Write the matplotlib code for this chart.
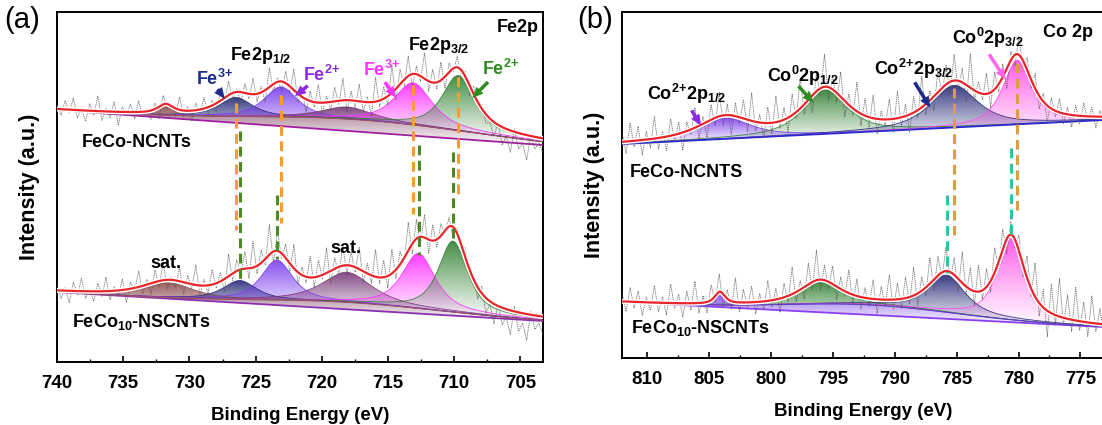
import matplotlib

matplotlib.use("Agg")
import matplotlib.pyplot as plt
import matplotlib.colors as mcolors
import matplotlib.patheffects as pe
from matplotlib.patches import PathPatch
from matplotlib.ticker import MultipleLocator
import numpy as np

plt.rcParams["font.family"] = ["Liberation Sans", "DejaVu Sans"]
plt.rcParams["mathtext.fontset"] = "custom"
for k in ("rm", "it", "bf", "sf"):
    plt.rcParams[f"mathtext.{k}"] = "Liberation Sans:bold"

# ---- (a) Fe 2p ---------------------------------------------------------
FE_XLIM = (740, 703.3)
FE_TOP_BASE = (252, 217)          # linear background at the two ends
FE_TOP_BG = (717, 12, 20)         # shirley-like hump: centre, height, fwhm
FE_TOP_CENTERS = [731.8, 726.5, 723.1, 718.1, 713.1, 709.7]
FE_TOP_HEIGHTS = [9, 19, 30, 12, 42, 55]
FE_TOP_FWHM = [1.4, 3.0, 3.0, 4.5, 3.4, 2.9]

FE_BOT_BASE = (70, 41)
FE_BOT_BG = (718, 7, 16)
FE_BOT_CENTERS = [731.6, 726.2, 723.4, 718.1, 712.7, 710.1]
FE_BOT_HEIGHTS = [15, 19, 40, 30, 55, 71]
FE_BOT_FWHM = [4.5, 3.0, 2.8, 4.5, 3.0, 2.6]

FE_ORANGE = [726.5, 723.1, 713.1, 709.7]
FE_ORANGE_SPAN = [(259, 132), (267, 139), (277, 148), (285, 167)]
FE_GREEN = [726.2, 723.4, 712.7, 710.1]
FE_GREEN_SPAN = [(231, 82), (167, 103), (217, 107), (210, 124)]

# ---- (b) Co 2p ---------------------------------------------------------
CO_XLIM = (812.0, 773.1)
CO_TOP_BASE = (214, 238)
CO_TOP_CENTERS = [803.7, 795.6, 785.2, 780.1]
CO_TOP_HEIGHTS = [21, 44, 42, 64]
CO_TOP_FWHM = [5.0, 4.2, 4.5, 2.8]

CO_BOT_BASE = (56, 31)
CO_BOT_BG = (792, 10, 16)
CO_BOT_CENTERS = [804.1, 796.0, 785.8, 780.6]
CO_BOT_HEIGHTS = [12, 23, 37, 82]
CO_BOT_FWHM = [1.0, 3.8, 3.5, 2.6]

CO_TAN = [785.2, 780.1]
CO_TAN_SPAN = [(270, 123), (295, 148)]
CO_TEAL = [785.8, 780.6]
CO_TEAL_SPAN = [(163, 85), (210, 121)]

# raw-signal scatter around the fitted envelope
FE_TOP_RES = [
    4, -6, 9, -3, 12, -8, 2, -11, 7, -4, 15, -9, 3, -6, 10, -13, 5, -2, 8, -7,
    11, -5, 3, -9, 6, -12, 9, -4, 2, -8, 13, -6, 4, -10, 7, -3, 11, -7, 5, -9,
    8, -4, 14, -6, 3, -11, 9, -5, 16, -8, 6, -12, 19, -7, 4, -10, 12, -6, 21, -9,
    7, -13, 10, -5, 18, -11, 6, -8, 14, -4, 22, -12, 9, -7, 17, -10, 5, -14, 24, -6,
    12, -9, 28, -11, 15, -6, 20, -13, 8, -5, 26, -10, 13, -7, 18, -12, 9, -4, 11, -8,
    6, -10, 8, -3, 5, -9, -4, -14, 2, -18, -7, -22, 3, -16, -9, -25, 1, -12, -6, -15]
FE_BOT_RES = [
    6, -8, 3, -12, 9, -4, 13, -7, 2, -10, 8, -5, 14, -9, 4, -6, 11, -13, 7, -3,
    16, -8, 5, -11, 12, -6, 18, -9, 3, -7, 14, -12, 8, -4, 20, -10, 6, -8, 15, -5,
    9, -13, 22, -7, 11, -4, 17, -10, 26, -8, 13, -6, 30, -11, 19, -5, 14, -9, 24, -12,
    8, -6, 21, -10, 16, -4, 25, -13, 11, -7, 19, -9, 14, -5, 22, -11, 10, -8, 27, -6,
    17, -12, 24, -9, 13, -5, 28, -10, 19, -7, 23, -14, 16, -8, 12, -4, 9, -11, 6, -8,
    10, -5, 4, -12, 7, -15, -3, -20, 2, -17, -8, -24, 5, -19, -10, -26, 3, -14, -7, -18]
CO_TOP_RES = [
    10, -12, 18, -6, 14, -15, 8, -9, 22, -11, 6, -14, 17, -7, 12, -18, 9, -5, 20, -13,
    7, -16, 15, -8, 24, -10, 11, -19, 13, -6, 19, -12, 28, -9, 8, -15, 16, -11, 26, -7,
    12, -14, 21, -6, 30, -10, 9, -17, 18, -8, 33, -13, 14, -9, 25, -16, 11, -7, 29, -12,
    17, -10, 23, -15, 8, -6, 20, -13, 27, -9, 12, -18, 16, -7, 31, -11, 10, -14, 22, -8,
    19, -12, 26, -9, 14, -17, 34, -10, 11, -6, 21, -15, 17, -8, 13, -20, 9, -11, 18, -7,
    12, -9, 15, -13, 8, -16, 11, -6, 14, -10, 7, -12, 10, -8, 13, -5, 9, -11, 6, -9]
CO_BOT_RES = [
    8, -10, 14, -6, 11, -13, 5, -8, 17, -9, 6, -12, 19, -5, 9, -14, 12, -7, 22, -10,
    7, -11, 15, -6, 18, -13, 9, -8, 24, -10, 13, -5, 16, -12, 8, -9, 20, -7, 11, -14,
    14, -6, 27, -10, 9, -12, 21, -8, 30, -11, 15, -7, 18, -13, 12, -5, 23, -9, 17, -12,
    10, -8, 19, -14, 13, -6, 25, -10, 16, -9, 21, -7, 28, -12, 14, -8, 26, -11, 19, -6,
    24, -10, 17, -13, 31, -8, 22, -14, 27, -9, 18, -11, 25, -7, 20, -15, 13, -9, 16, -12,
    22, -8, 34, -13, 18, -26, 29, -10, 38, -7, 24, -12, 33, -9, 20, -14, 27, -8, 15, -10]

FE_COLORS = ["#8b4b4b", "#262a78", "#7a3cf0", "#763676", "#ff2cff", "#2f7f2f"]
CO_COLORS = ["#7a3cf0", "#2f7f2f", "#262a78", "#ff4ae8"]
ETA = 0.75


def pvoigt(x, c, h, w, eta=ETA):
    d = (x - c) / w
    return h * (eta / (1 + 4 * d ** 2) + (1 - eta) * np.exp(-4 * np.log(2) * d ** 2))


def grad_fill(ax, x, lo, hi, color, top=0.92, bot=0.02, z=2):
    poly = ax.fill_between(x, lo, hi, facecolor="none", edgecolor="none", zorder=z)
    clip = PathPatch(poly.get_paths()[0], transform=ax.transData,
                     facecolor="none", edgecolor="none")
    ax.add_patch(clip)
    img = np.zeros((128, 1, 4))
    img[:, 0, :3] = mcolors.to_rgb(color)
    img[:, 0, 3] = np.linspace(bot, top, 128) ** 1.1
    im = ax.imshow(img, extent=[x.min(), x.max(), lo.min(), hi.max()], origin="lower",
                   aspect="auto", interpolation="bilinear", zorder=z)
    im.set_clip_path(clip)


def spectrum(ax, xlim, base, bg, centers, heights, fwhm, colors, res,
             bg_color, base_color, upper_color):
    x = np.linspace(xlim[0], xlim[1], 800)

    def lin(xx):
        return base[0] + (base[1] - base[0]) * (xx - xlim[0]) / (xlim[1] - xlim[0])

    def hump(xx):
        return pvoigt(xx, *bg, eta=0.0) if bg else 0 * xx

    def total(xx):
        out = lin(xx) + hump(xx)
        for c, h, w in zip(centers, heights, fwhm):
            out = out + pvoigt(xx, c, h, w)
        return out

    if bg:
        grad_fill(ax, x, lin(x), lin(x) + hump(x), bg_color, top=0.75, z=1.5)
    shirley = lin(x) + hump(x)
    for c, h, w, col in zip(centers, heights, fwhm, colors):
        p = pvoigt(x, c, h, w)
        grad_fill(ax, x, shirley, shirley + p, col)
        ax.plot(x, shirley + p, color=col, lw=0.6, alpha=0.9, zorder=2.5)
    ax.plot(x, lin(x), color=base_color, lw=1.3, zorder=3)
    if bg:
        ax.plot(x, shirley, color=upper_color, lw=0.8, zorder=3)
    xr = np.linspace(xlim[0], xlim[1], len(res))
    ax.plot(xr, total(xr) + np.array(res), color="#555555", lw=0.6,
            ls=(0, (1.6, 0.9)), alpha=0.8, zorder=3.5)
    ax.plot(x, total(x), color="#e8262a", lw=1.6, zorder=4,
            path_effects=[pe.Stroke(linewidth=3.6, foreground="white"), pe.Normal()])


def dashes(ax, xs, spans, color):
    for xv, (y0, y1) in zip(xs, spans):
        ax.plot([xv, xv], [y0, y1], color=color, lw=2.2, ls=(0, (3.2, 1.8)), zorder=5)


def style(ax, xlim, ylim):
    ax.set_xlim(*xlim)
    ax.set_ylim(*ylim)
    ax.set_yticks([])
    ax.xaxis.set_major_locator(MultipleLocator(5))
    ax.xaxis.set_minor_locator(MultipleLocator(2.5))
    ax.tick_params(axis="x", which="both", direction="in", top=False, labelsize=13.5, pad=9)
    ax.tick_params(axis="x", which="major", length=4, width=1.2)
    ax.tick_params(axis="x", which="minor", length=2.5, width=1.0)
    for lab in ax.get_xticklabels():
        lab.set_fontweight("bold")
    for s in ax.spines.values():
        s.set_linewidth(1.4)
    ax.set_xlabel("Binding Energy (eV)", fontsize=13.5, fontweight="bold", labelpad=11)
    ax.set_ylabel("Intensity (a.u.)", fontsize=15.5, fontweight="bold", labelpad=12)


def arrow(ax, tail, head, color):
    ax.annotate("", xy=head, xytext=tail, zorder=6,
                arrowprops=dict(arrowstyle="simple,head_width=0.7,head_length=0.8,tail_width=0.25",
                                color=color, lw=0))


fig = plt.figure(figsize=(11.02, 4.25), dpi=100)
W, H = 1102, 425
axa = fig.add_axes([57 / W, 1 - 362 / H, (543 - 57) / W, 350 / H])
axb = fig.add_axes([622 / W, 1 - 358 / H, (1104 - 622) / W, 346 / H])

# panel (a)
spectrum(axa, FE_XLIM, FE_TOP_BASE, FE_TOP_BG, FE_TOP_CENTERS, FE_TOP_HEIGHTS, FE_TOP_FWHM,
         FE_COLORS, FE_TOP_RES, "#834565", "#a020a0", "#a0506a")
spectrum(axa, FE_XLIM, FE_BOT_BASE, FE_BOT_BG, FE_BOT_CENTERS, FE_BOT_HEIGHTS, FE_BOT_FWHM,
         FE_COLORS, FE_BOT_RES, "#834565", "#8a30b0", "#a0506a")
dashes(axa, FE_ORANGE, FE_ORANGE_SPAN, "#ff9a2e")
dashes(axa, FE_GREEN, FE_GREEN_SPAN, "#4a8a22")
style(axa, FE_XLIM, (0, 350))

kw = dict(fontsize=13, fontweight="bold", ha="center", va="center", zorder=7)
axa.text(703.6, 335, "Fe2p", **{**kw, "ha": "right"})
axa.text(724.65, 307, "Fe2p$_{1/2}$", **kw)
axa.text(711.2, 317, "Fe2p$_{3/2}$", **kw)
axa.text(728.1, 283, "Fe$^{3{+}}$", color="#1c2a8c", **kw)
axa.text(720.0, 287, "Fe$^{2{+}}$", color="#8a2be2", **kw)
axa.text(715.5, 292, "Fe$^{3{+}}$", color="#ff33ff", **kw)
axa.text(706.5, 293, "Fe$^{2{+}}$", color="#2e8b22", **kw)
arrow(axa, (728.0, 275), (727.2, 261), "#1c2a8c")
arrow(axa, (720.9, 278), (722.2, 264), "#8a2be2")
arrow(axa, (715.35, 282), (714.3, 262), "#ff33ff")
arrow(axa, (707.3, 282), (708.8, 262), "#2e8b22")
axa.text(734.0, 220, "FeCo-NCNTs", **kw)
axa.text(733.65, 40, "FeCo$_{10}$-NSCNTs", **kw)
axa.text(731.8, 99, "sat.", **kw)
axa.text(718.2, 114, "sat.", **kw)

# panel (b)
spectrum(axb, CO_XLIM, CO_TOP_BASE, None, CO_TOP_CENTERS, CO_TOP_HEIGHTS, CO_TOP_FWHM,
         CO_COLORS, CO_TOP_RES, None, "#2a2ad0", None)
spectrum(axb, CO_XLIM, CO_BOT_BASE, CO_BOT_BG, CO_BOT_CENTERS, CO_BOT_HEIGHTS, CO_BOT_FWHM,
         CO_COLORS, CO_BOT_RES, "#9a70f0", "#8a3ff0", "#5a40c0")
dashes(axb, CO_TAN, CO_TAN_SPAN, "#d9a040")
dashes(axb, CO_TEAL, CO_TEAL_SPAN, "#2ec4a0")
style(axb, CO_XLIM, (0, 346))

axb.text(806.8, 264, "Co$^{2{+}}$2p$_{1/2}$", **kw)
axb.text(797.4, 282, "Co$^{0}$2p$_{1/2}$", **kw)
axb.text(788.5, 289, "Co$^{2{+}}$2p$_{3/2}$", **kw)
axb.text(782.5, 320, "Co$^{0}$2p$_{3/2}$", **kw)
axb.text(776.0, 326, "Co 2p", **kw)
arrow(axb, (806.5, 250), (805.5, 230), "#8a2be2")
arrow(axb, (797.9, 274), (796.4, 253), "#2e8b22")
arrow(axb, (788.5, 278), (787.0, 248), "#1c2a8c")
arrow(axb, (782.5, 306), (780.9, 276), "#ff66ee")
axb.text(806.8, 186, "FeCo-NCNTS", **kw)
axb.text(805.7, 30, "FeCo$_{10}$-NSCNTs", **kw)

fig.text(22 / W, 1 - 20 / H, "(a)", fontsize=21, ha="center", va="center")
fig.text(595 / W, 1 - 20 / H, "(b)", fontsize=21, ha="center", va="center")

fig.savefig("out.png", dpi=100, facecolor="white")
